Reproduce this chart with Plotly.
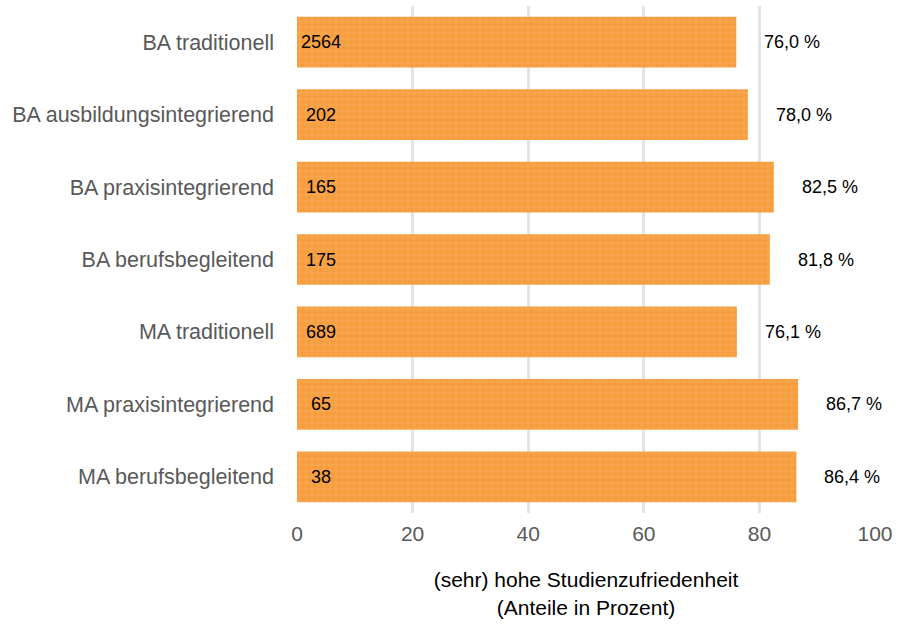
import plotly.graph_objects as go

categories = ["BA traditionell", "BA ausbildungsintegrierend", "BA praxisintegrierend",
              "BA berufsbegleitend", "MA traditionell", "MA praxisintegrierend",
              "MA berufsbegleitend"]
shares = [76.0, 78.0, 82.5, 81.8, 76.1, 86.7, 86.4]
counts = [2564, 202, 165, 175, 689, 65, 38]
share_labels = ["76,0 %", "78,0 %", "82,5 %", "81,8 %", "76,1 %", "86,7 %", "86,4 %"]
tick_vals = [0, 20, 40, 60, 80, 100]

FONT = "Liberation Sans, Arial"

fig = go.Figure()
fig.add_trace(go.Bar(
    y=categories, x=shares, orientation="h", width=0.7,
    marker=dict(color="#F69E3E", line=dict(width=0),
                pattern=dict(shape="+", fgcolor="#F9B872", bgcolor="#F69E3E",
                             size=6, solidity=0.25)),
    hoverinfo="skip",
))

annotations = []
for cat, c, s, lab in zip(categories, counts, shares, share_labels):
    annotations.append(dict(x=4.2, y=cat, text=str(c), showarrow=False, xanchor="center",
                            font=dict(size=18, color="#000000", family=FONT)))
    annotations.append(dict(x=s + 9.7, y=cat, text=lab, showarrow=False, xanchor="center",
                            font=dict(size=18, color="#000000", family=FONT)))

fig.update_layout(
    width=901, height=625,
    margin=dict(l=297, r=26, t=6, b=112),
    plot_bgcolor="white", paper_bgcolor="white",
    showlegend=False,
    font=dict(family=FONT, color="#595959"),
    annotations=annotations,
    xaxis=dict(range=[0, 100], tickvals=tick_vals, showgrid=True, gridcolor="#E3E3E3",
               gridwidth=3, zeroline=False, showline=False, automargin=False,
               tickfont=dict(size=21, color="#595959"), ticks="", ticklen=0,
               ticklabelstandoff=6,
               title=dict(text="(sehr) hohe Studienzufriedenheit<br>(Anteile in Prozent)",
                          font=dict(size=21, color="#000000"), standoff=28)),
    yaxis=dict(autorange="reversed", showgrid=False, zeroline=False, showline=False,
               automargin=False,
               tickfont=dict(size=21.5, color="#595959"), ticks="", ticklen=0,
               ticklabelstandoff=22),
    bargap=0.3,
)

fig.write_html("out.html", config={"displayModeBar": False},
               post_script="document.body.style.margin='0';")
